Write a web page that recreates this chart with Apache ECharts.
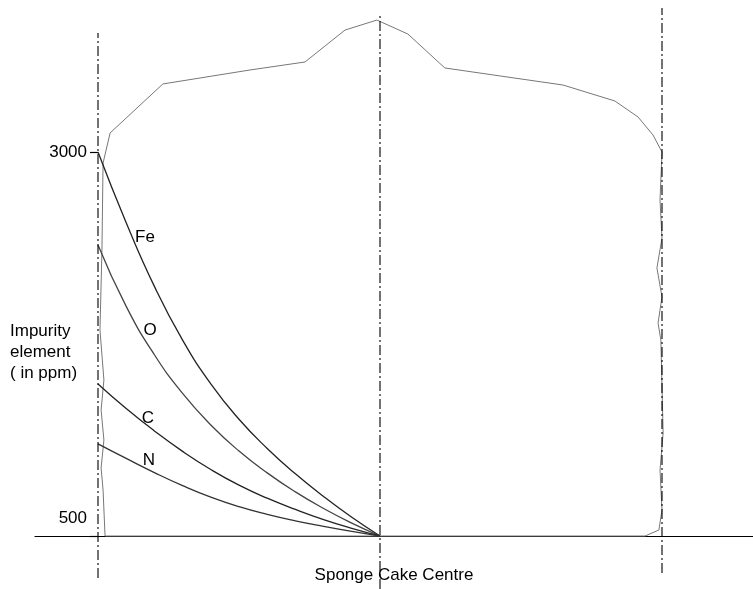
<!DOCTYPE html>
<html>
<head>
<meta charset="utf-8">
<script src="https://cdn.jsdelivr.net/npm/echarts@6/dist/echarts.min.js"></script>
<style>
  html, body { margin: 0; padding: 0; background: #fff; }
  #chart { width: 753px; height: 589px; }
</style>
</head>
<body>
<div id="chart"></div>
<script>
// position across the sponge: 0 = left wall, 100 = centre, 200 = right wall
const positions = [0, 10, 20, 30, 40, 50, 60, 70, 80, 90, 100];

// impurity (ppm) from the wall to the centre
const fe = [3000, 2540, 2125, 1775, 1490, 1260, 1070, 905, 757, 622, 500];
const o  = [2395, 1995, 1680, 1428, 1223, 1053, 911, 787, 679, 584, 500];
const c  = [1490, 1330, 1184, 1051, 933, 831, 746, 673, 607, 550, 500];
const n  = [1100, 1005, 913, 828, 753, 691, 641, 599, 563, 530, 500];

// outline of the sponge cake [position, ppm]
const cakeOutline = [
  [2.5, 500], [1.8, 799], [1.1, 943], [2.1, 1125], [1.1, 1320], [2.1, 1516],
  [0.7, 1841], [1.4, 2362], [1.8, 2928], [4.3, 3124], [23.0, 3443],
  [53.9, 3534], [73.4, 3586], [87.6, 3794], [98.9, 3859], [109.9, 3768],
  [123.0, 3547], [142.6, 3495], [164.9, 3436], [183.3, 3332], [191.5, 3228],
  [196.8, 3111], [200.0, 3000], [199.3, 2687], [200.0, 2440], [198.2, 2245],
  [200.0, 2056], [198.6, 1887], [199.6, 1776], [200.4, 1171], [199.3, 930],
  [200.0, 669], [198.9, 539], [194.0, 500], [2.5, 500]
];

// dash-dot reference lines [position, ppm bottom, ppm top]
const guides = [[0, 226, 3775], [100, 155, 3905], [200, 259, 3938]];

const yTicks = [500, 3000];
const font = 'Arial, "Liberation Sans", sans-serif';

const chart = echarts.init(document.getElementById('chart'));

function curve(name, values, color) {
  return {
    name: name,
    type: 'line',
    smooth: 0.5,
    symbol: 'none',
    clip: false,
    data: positions.map((p, i) => [p, values[i]]),
    lineStyle: { color: color, width: 1.3 }
  };
}

const series = [
  {
    name: 'outline',
    type: 'line',
    symbol: 'none',
    clip: false,
    data: cakeOutline,
    lineStyle: { color: '#777', width: 1 }
  },
  curve('Fe', fe, '#222'),
  curve('O', o, '#444'),
  curve('C', c, '#222'),
  curve('N', n, '#333')
];

guides.forEach(g => {
  series.push({
    type: 'line',
    symbol: 'none',
    clip: false,
    data: [[g[0], g[1]], [g[0], g[2]]],
    lineStyle: { color: '#000', width: 1.1, type: [10, 3, 2, 3] }
  });
});

chart.setOption({
  animation: false,
  title: {
    text: 'Impurity\nelement\n( in ppm)',
    left: 5,
    top: 316,
    textStyle: { fontFamily: font, fontSize: 17, fontWeight: 'normal', color: '#000', lineHeight: 21 }
  },
  grid: { left: 35, right: 0, top: -232, bottom: 53, outerBoundsMode: 'none', containLabel: false },
  xAxis: {
    type: 'value',
    min: -22.34,
    max: 232.27,
    name: 'Sponge Cake Centre',
    nameLocation: 'middle',
    nameGap: 39,
    nameTextStyle: { fontFamily: font, fontSize: 17, color: '#000', verticalAlign: 'middle' },
    axisLine: { lineStyle: { color: '#000', width: 1.2 } },
    axisTick: { show: false },
    axisLabel: { show: false },
    splitLine: { show: false }
  },
  yAxis: {
    type: 'value',
    min: 500,
    max: 5500,
    interval: 2500,
    offset: -63,
    axisLine: { show: false },
    axisTick: { show: true, length: 8, lineStyle: { color: '#000', width: 1.2 } },
    axisLabel: {
      margin: 11,
      fontFamily: font,
      fontSize: 17,
      color: '#000',
      formatter: v => v === yTicks[0] ? '{low|' + v + '}' : (yTicks.indexOf(v) >= 0 ? String(v) : ''),
      rich: { low: { fontFamily: font, fontSize: 17, color: '#000', padding: [0, 0, 36, 0] } }
    },
    splitLine: { show: false }
  },
  graphic: [
    { type: 'text', x: 145, y: 237, style: { text: 'Fe', font: '17px ' + font, fill: '#000', align: 'center', verticalAlign: 'middle' } },
    { type: 'text', x: 150, y: 330, style: { text: 'O', font: '17px ' + font, fill: '#000', align: 'center', verticalAlign: 'middle' } },
    { type: 'text', x: 148, y: 418, style: { text: 'C', font: '17px ' + font, fill: '#000', align: 'center', verticalAlign: 'middle' } },
    { type: 'text', x: 149, y: 460, style: { text: 'N', font: '17px ' + font, fill: '#000', align: 'center', verticalAlign: 'middle' } }
  ],
  series: series
});

window.onresize = function () {
  chart.resize();
};
</script>
</body>
</html>
